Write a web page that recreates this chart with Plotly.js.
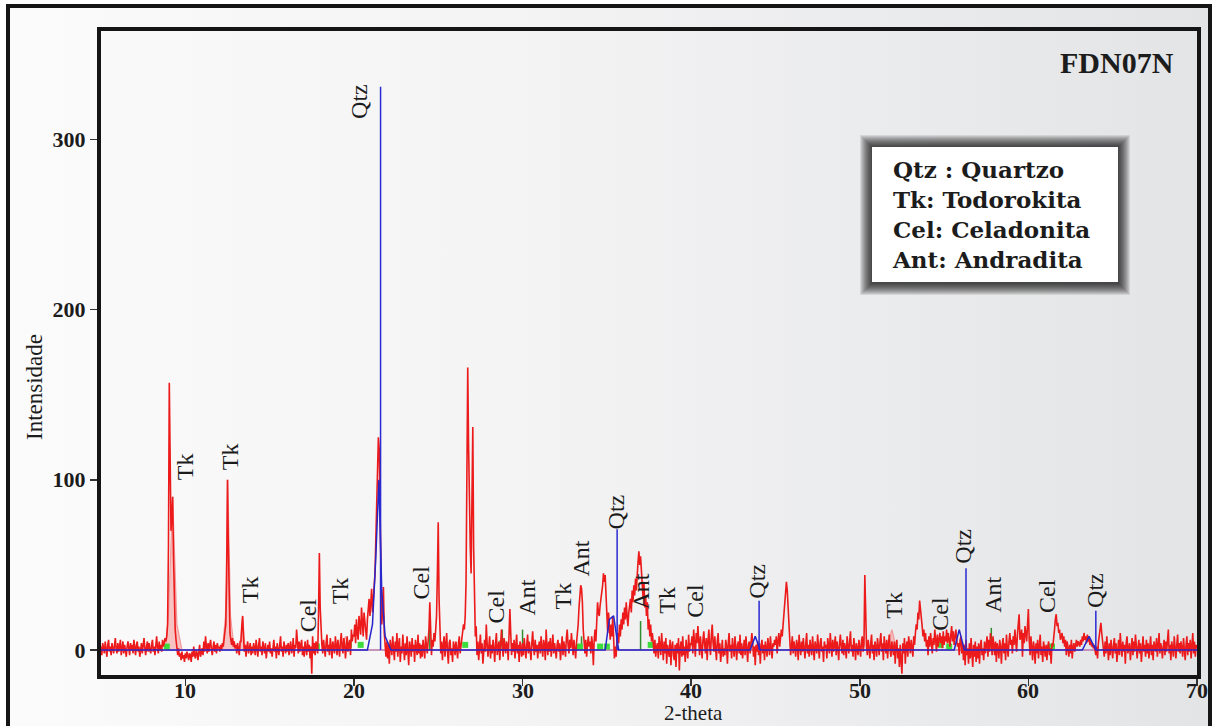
<!DOCTYPE html>
<html><head><meta charset="utf-8">
<script src="https://cdn.plot.ly/plotly-3.0.1.min.js"></script>
<style>
html,body{margin:0;padding:0;background:#fff;}
#wrap{position:relative;width:1216px;height:726px;overflow:hidden;}
#frame{position:absolute;left:6px;top:4px;width:1198px;height:760px;border:4px solid #151515;background:linear-gradient(to right,#fbfbfb 0%,#f3f3f4 45%,#e3e4e6 100%);}
#chart{position:absolute;left:0;top:0;width:1216px;height:726px;}
</style></head><body>
<div id="wrap"><div id="frame"></div><div id="chart"></div></div>
<script>
// ---------- DATA ----------
const twoThetaStart = 5;      // first sample, degrees
const twoThetaStep = 0.05;    // sampling step, degrees
// observed intensity, one row per degree (5.00 ... 69.95), then 70.00
const observedIntensity = [
 2,-3,4,1,-2,5,0,-4,3,6,-1,2,-3,4,1,-2,3,7,0,-2,
 4,-1,2,6,-3,1,5,-2,3,0,-4,2,5,1,-3,4,0,3,-2,6,
 1,-3,3,5,-1,2,-4,0,4,-2,3,7,1,-3,2,5,-1,4,0,-2,
 3,6,-1,2,-3,4,8,1,-2,5,0,3,-1,6,2,4,7,5,8,15,
 60,157,110,70,78,90,55,25,12,6,2,-3,1,-4,-2,-6,-1,-5,-3,-7,
 -2,-5,-1,-4,-6,-2,-3,-7,-1,-4,2,-3,-5,0,-2,-6,-1,3,-4,-2,
 1,-3,5,-1,8,2,-2,4,-1,3,6,0,-3,2,5,-1,3,-2,4,1,
 2,-1,3,0,4,2,6,8,15,40,100,62,22,10,6,3,7,2,5,1,
 3,-2,4,1,-3,5,5,14,20,8,-1,3,-4,2,5,-2,1,4,-3,2,
 -2,4,1,-3,6,0,-4,3,7,-1,2,-3,5,1,-2,4,-5,0,3,-1,
 5,-2,1,-4,3,6,-1,2,-5,4,0,-3,3,8,-1,2,-4,5,1,-2,
 3,-1,4,-3,2,5,-2,0,7,-4,3,1,12,4,-2,5,-1,3,6,-3,
 2,-4,5,1,-3,6,-1,3,-5,2,-14,8,-2,4,-3,5,1,-2,20,57,
 25,8,3,-2,6,1,-4,4,9,-1,3,-3,7,2,-5,5,0,-2,8,3,
 -3,6,2,-4,5,10,1,-2,7,3,-5,4,8,-1,2,6,-3,12,5,9,
 8,15,4,18,10,6,20,12,9,25,14,8,22,16,10,6,18,24,30,20,
 30,36,22,28,36,45,65,90,110,125,118,70,30,15,22,37,10,3,-4,5,
 -5,3,-8,6,1,-3,8,2,-6,5,-1,10,-4,3,7,-7,2,-2,9,1,
 -6,4,-3,8,0,-9,5,2,-4,7,-1,3,-7,6,1,-3,9,-2,4,-5,
 3,-4,6,1,-5,8,2,-2,5,12,28,8,-3,6,2,10,5,12,20,45,
 75,30,8,-2,5,-6,3,8,-4,2,10,-1,-8,4,6,-3,1,-7,5,2,
 -3,5,1,-5,4,8,-2,3,6,10,15,12,20,40,110,166,120,70,60,45,
 90,131,60,20,8,14,-3,5,-6,2,9,-2,4,-8,3,6,-1,15,4,-4,
 2,8,-5,3,-2,6,1,-7,4,10,-3,2,5,-6,8,12,3,-4,7,1,
 -2,5,3,-6,8,24,10,-3,4,-1,6,-5,2,9,-2,3,-7,5,1,-4,
 4,-3,7,1,-5,3,9,-2,5,0,-6,4,11,2,-3,6,-1,3,-5,2,
 5,-2,8,1,-4,6,3,-6,12,2,-3,5,-1,7,-4,2,9,-2,4,0,
 -5,3,6,-1,4,-6,2,8,-3,5,1,-4,7,12,3,-2,6,1,10,4,
 -3,6,2,-5,4,8,15,25,35,38,36,28,12,4,-2,6,-4,3,8,2,
 5,-2,8,3,-9,6,12,5,18,28,22,20,26,30,32,38,45,40,44,30,
 18,10,22,12,6,15,8,20,3,-5,2,-4,6,10,4,15,8,18,12,22,
 15,25,18,28,20,14,22,26,30,22,35,28,38,32,42,35,48,52,58,50,
 55,45,38,30,40,25,32,20,28,12,18,8,15,5,10,3,-2,6,-4,2,
 4,-5,8,2,-3,10,1,-6,5,-2,7,-8,3,0,-4,6,-9,2,5,-3,
 -6,3,-10,4,-2,7,-12,1,5,-4,8,-3,2,-7,6,0,-5,9,-1,4,
 3,8,-2,12,6,-4,10,4,14,2,-3,8,1,-5,6,11,3,-2,7,-6,
 5,12,2,-3,9,15,4,-1,8,3,-6,5,10,-2,4,-7,2,6,-4,1,
 -3,6,2,-8,4,10,-1,3,-5,7,1,-4,8,2,-6,3,5,-2,9,-3,
 4,-5,2,6,-3,8,1,-7,3,5,-2,7,10,4,-4,2,-9,3,-1,5,
 -3,4,-8,2,6,-2,3,-6,5,1,-4,7,2,-3,8,0,-5,4,2,6,
 3,8,-2,5,10,2,6,12,8,15,18,25,30,40,35,22,12,6,-3,4,
 8,-2,5,1,-4,6,3,-6,9,2,-3,5,-1,7,2,-5,4,10,-2,3,
 -4,6,1,-3,8,2,-6,5,0,-2,9,3,-5,4,7,-1,2,-7,5,1,
 3,-5,7,2,-2,10,4,-4,6,-1,3,8,-3,5,1,-6,4,9,2,-2,
 6,-3,4,1,-5,8,2,-2,5,11,-1,3,-4,7,2,-6,4,1,-3,6,
 2,-4,5,8,-1,3,44,12,2,-3,6,1,-5,4,9,-2,3,-6,5,2,
 -4,7,2,-3,5,10,-1,4,-6,8,2,-2,6,-5,3,9,0,-4,5,2,
 -3,5,-8,2,6,-5,1,-10,3,-6,-14,4,-2,7,-8,2,5,-4,8,3,
 -2,6,1,-4,8,3,10,15,12,22,18,29,24,20,14,8,12,5,10,2,
 6,-3,8,2,10,4,-2,7,3,12,5,-1,9,2,6,10,4,8,1,11,
 3,8,5,12,4,10,6,2,9,14,5,11,3,8,12,6,2,4,-3,6,
 8,-2,4,-6,3,-9,6,-3,1,-8,4,-5,7,-2,-10,3,-4,5,-7,2,
 -5,4,-8,2,6,-3,1,-6,5,-2,3,8,-4,6,-1,10,4,-3,8,2,
 -3,5,-7,4,1,-5,6,2,-8,3,7,-2,4,-6,9,1,-4,5,10,3,
 6,-2,8,3,12,5,-1,9,15,21,6,8,12,-4,10,4,14,8,5,15,
 24,6,-3,8,2,-6,5,1,-8,4,-2,6,-5,3,9,-3,2,-7,5,1,
 -4,3,-6,2,5,-3,1,-8,4,2,6,12,18,21,14,16,10,12,6,8,
 10,4,8,2,6,-3,5,1,-4,3,-2,6,-5,2,4,-1,3,6,2,5,
 4,2,6,3,8,5,10,6,8,4,9,5,7,3,6,2,4,1,3,-2,
 -3,2,-5,4,8,12,16,10,6,2,-4,5,-2,8,1,-6,4,-3,6,2,
 -5,3,7,-2,4,-7,1,6,-3,10,2,-4,5,-1,3,-8,4,8,-2,1,
 4,-6,2,7,-3,5,-1,9,3,-5,1,6,-2,4,-7,2,8,-1,3,-4,
 6,-2,4,-5,1,8,-3,3,-6,5,2,-1,7,-4,3,10,-2,4,1,-5,
 2,6,-3,5,-1,4,12,-2,3,-6,5,1,-4,8,2,-5,3,9,-1,4,
 -2,5,1,-4,7,2,-6,3,8,-3,4,-1,6,-5,2,10,-2,5,-4,3,
 1
];
// fitted Todorokita profile (pink)
const tkFitX = [5,8.8,9.0,9.25,9.5,9.8,12.2,12.38,12.52,12.68,12.9,13.25,13.4,13.55,19.2,19.5,19.8,51.6,51.9,52.2,70];
const tkFitY = [0,0,20,90,15,0,0,20,100,20,0,0,20,0,0,8,0,0,12,0,0];
// fitted quartz profile (blue)
const qtzFitX = [5,20.8,21.1,21.3,21.48,21.65,21.85,22.2,34.9,35.15,35.4,35.7,43.5,43.8,44.1,55.6,55.9,56.2,63.2,63.6,64.0,70];
const qtzFitY = [0,0,15,55,100,35,8,0,0,18,20,0,0,8,0,0,12,0,0,8,0,0];
// reference sticks
const qtzStickPos = [21.58,35.61,44.03,56.3,64.0];
const qtzStickHeight = [331,71,29,48,23];
const greenStickPos = [24.5,28.8,30.0,33.5,37.0,57.8];
const greenStickHeight = [16,12,12,8,17,13];
const greenDotPos = [8.9,17.8,19.7,20.4,26.6,28.8,30.8,33.4,34.6,35.0,37.6,54.8,55.3,61.4];
const greenDotHeight = [2,2,3,3,3,4,1,2,2,2,3,3,2,2];
// peak labels
const labelText = ["Qtz","Tk","Tk","Tk","Cel","Tk","Cel","Cel","Ant","Tk","Ant","Qtz","Ant","Tk","Cel","Qtz","Tk","Cel","Qtz","Ant","Cel","Qtz"];
const labelX = [20.29,9.96,12.69,13.82,17.26,19.16,23.97,28.42,30.26,32.39,33.46,35.54,37.02,38.57,40.23,43.85,51.98,54.71,56.07,57.91,61.06,63.91];
const labelY = [322.5,107.8,113.7,35.5,20.2,34.9,39.6,25.5,30.8,31.9,53.7,81.4,34.3,29.0,29.0,40.2,26.1,21.4,60.8,32.5,31.9,34.9];
const xTicks = [10,20,30,40,50,60,70];
const yTicks = [0,100,200,300];
const legendLines = ["Qtz : Quartzo","Tk: Todorokita","Cel: Celadonita","Ant: Andradita"];
const sampleName = "FDN07N";

// ---------- BUILD ----------
const obsX = observedIntensity.map((_, i) => +(twoThetaStart + i * twoThetaStep).toFixed(2));
function sticks(pos, h) {
  const x = [], y = [];
  pos.forEach((p, i) => { x.push(p, p, null); y.push(0, h[i], null); });
  return {x, y};
}
const qs = sticks(qtzStickPos, qtzStickHeight);
const gs = sticks(greenStickPos, greenStickHeight);

const serif = "Liberation Serif, Times New Roman, serif";
const traces = [
  {x:[5,70], y:[0,0], mode:'lines', line:{color:'rgba(110,90,210,0.9)', width:1.5}, hoverinfo:'skip'},
  {x:tkFitX, y:tkFitY, mode:'lines', fill:'tozeroy', fillcolor:'rgba(245,150,150,0.55)', line:{color:'#f29a9a', width:1.2}},
  {x:gs.x, y:gs.y, mode:'lines', line:{color:'#2f8f2f', width:1.5}},
  {x:greenDotPos, y:greenDotHeight, mode:'markers', marker:{symbol:'square', size:6, color:'#3ddc3d'}},
  {x:obsX, y:observedIntensity, mode:'lines', line:{color:'#ec1a1a', width:1.6}},
  {x:qtzFitX, y:qtzFitY, mode:'lines', line:{color:'#2626c8', width:1.5}},
  {x:qs.x, y:qs.y, mode:'lines', line:{color:'#2a2ad2', width:1.5}}
];

const L = 101, R = 1197, T = 31, B = 675;
const px = v => (v - L) / (R - L);
const py = v => (B - v) / (B - T);

const annotations = labelText.map((t, i) => ({
  x: labelX[i], y: labelY[i], xref:'x', yref:'y', text:t, showarrow:false,
  textangle:-90, xanchor:'center', yanchor:'middle',
  font:{family:serif, size:24, color:'#1c1c1c'}
}));
// x tick labels placed on the x axis scale
xTicks.forEach(v => annotations.push({x:v, y:py(690), xref:'x', yref:'paper', text:String(v), showarrow:false,
  xanchor:'center', yanchor:'middle', font:{family:serif, size:22, color:'#1c1c1c', weight:'bold'}}));
annotations.push({x:px(1117), y:py(63), xref:'paper', yref:'paper', text:sampleName, showarrow:false,
  xanchor:'center', yanchor:'middle', font:{family:serif, size:30, color:'#1c1c1c', weight:'bold'}});
annotations.push({x:px(890), y:py(214), xref:'paper', yref:'paper', text:legendLines.join('<br>'),
  showarrow:false, xanchor:'left', yanchor:'middle', align:'left',
  font:{family:'DejaVu Serif, serif', size:23, color:'#1c1c1c', weight:'bold'}});
annotations.push({x:px(34), y:py(387), xref:'paper', yref:'paper', text:'Intensidade', showarrow:false, textangle:-90,
  xanchor:'center', yanchor:'middle', font:{family:serif, size:23, color:'#1c1c1c'}});
annotations.push({x:px(693), y:py(713), xref:'paper', yref:'paper', text:'2-theta', showarrow:false,
  xanchor:'center', yanchor:'middle', font:{family:serif, size:21, color:'#1c1c1c'}});

const shapes = [];
const bx0 = 872, bx1 = 1118, by0 = 147, by1 = 282;
for (let k = 12; k >= 1; k--) {
  shapes.push({type:'rect', xref:'paper', yref:'paper', x0:px(bx0 - k), x1:px(bx1 + k), y0:py(by1 + k + 1), y1:py(by0 - k),
    fillcolor:'rgba(0,0,0,0.09)', line:{width:0}, layer:'above'});
}
shapes.push({type:'rect', xref:'paper', yref:'paper', x0:px(bx0), x1:px(bx1), y0:py(by1), y1:py(by0),
  fillcolor:'#ffffff', line:{width:0}, layer:'above'});

const axisCommon = {
  showline:true, linewidth:4, linecolor:'#151515', mirror:true, showgrid:false, zeroline:false,
  ticks:'outside', ticklen:7, tickwidth:1.5, tickcolor:'#333',
  tickfont:{family:serif, size:22, color:'#1c1c1c', weight:'bold'}
};
const layout = {
  width:1216, height:726,
  margin:{l:L, r:1216 - R, t:T, b:726 - B},
  paper_bgcolor:'rgba(0,0,0,0)', plot_bgcolor:'rgba(0,0,0,0)',
  showlegend:false,
  xaxis:Object.assign({}, axisCommon, {range:[5,70], tickvals:xTicks, showticklabels:false}),
  yaxis:Object.assign({}, axisCommon, {range:[-14.7,363.7], tickvals:yTicks, ticktext:yTicks.map(String)}),
  annotations, shapes
};
Plotly.newPlot('chart', traces, layout, {staticPlot:true, displayModeBar:false});
</script></body></html>
